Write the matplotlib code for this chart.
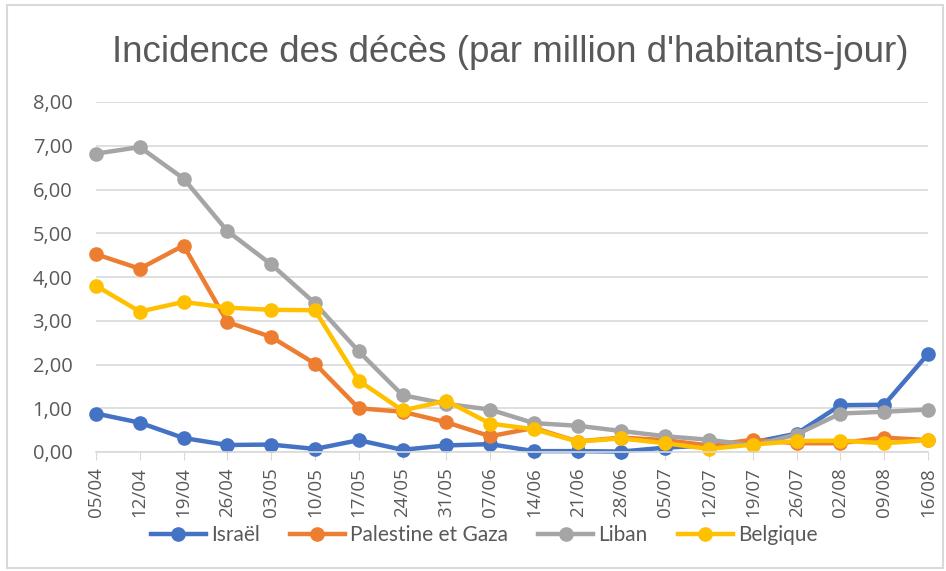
import numpy as np
import matplotlib.pyplot as plt
from matplotlib.patches import Rectangle
from matplotlib.ticker import FuncFormatter

dates = ["05/04", "12/04", "19/04", "26/04", "03/05", "10/05", "17/05", "24/05", "31/05", "07/06",
         "14/06", "21/06", "28/06", "05/07", "12/07", "19/07", "26/07", "02/08", "09/08", "16/08"]
israel = [0.88, 0.67, 0.32, 0.16, 0.17, 0.07, 0.27, 0.05, 0.15, 0.18,
          0.02, 0.02, 0.01, 0.10, 0.15, 0.22, 0.42, 1.07, 1.08, 2.24]
palestine = [4.52, 4.19, 4.72, 2.97, 2.63, 2.02, 1.00, 0.92, 0.68, 0.36,
             0.55, 0.24, 0.33, 0.27, 0.15, 0.28, 0.20, 0.20, 0.33, 0.27]
liban = [6.82, 6.97, 6.25, 5.05, 4.29, 3.40, 2.30, 1.30, 1.10, 0.97,
         0.66, 0.60, 0.48, 0.36, 0.28, 0.15, 0.40, 0.88, 0.92, 0.97]
belgique = [3.80, 3.21, 3.43, 3.30, 3.25, 3.24, 1.63, 0.95, 1.17, 0.65,
            0.52, 0.24, 0.31, 0.20, 0.07, 0.17, 0.25, 0.26, 0.20, 0.27]

series = [("Israël", israel, "#4472C4"),
          ("Palestine et Gaza", palestine, "#ED7D31"),
          ("Liban", liban, "#A5A5A5"),
          ("Belgique", belgique, "#FFC000")]

grey_txt = "#595959"
W, H = 946, 571

fig = plt.figure(figsize=(W / 100, H / 100), dpi=100)
# chart area border
fig.patches.append(Rectangle((7 / W, 3 / H), 936 / W, 563 / H, transform=fig.transFigure,
                             fill=False, edgecolor="#D9D9D9", lw=1.5))
ax = fig.add_axes([96 / W, 1 - 452 / H, (928 - 96) / W, (452 - 102) / H])

x = np.arange(len(dates))
for name, vals, col in series:
    ax.plot(x, vals, color=col, lw=3.2, marker="o", ms=9.5, label=name,
            solid_joinstyle="round", clip_on=False)

ax.set_xlim(0, len(dates) - 1)
ax.set_ylim(0, 8)
ax.set_yticks(np.arange(0, 9, 1))
ax.yaxis.set_major_formatter(FuncFormatter(lambda v, p: f"{v:.2f}".replace(".", ",")))
ax.set_xticks(x)
ax.set_xticklabels(dates, rotation=90)
ax.grid(axis="y", color="#D9D9D9", lw=1.2)
ax.set_axisbelow(True)
for s in ["top", "right", "left"]:
    ax.spines[s].set_visible(False)
ax.spines["bottom"].set_color("#D9D9D9")
ax.spines["bottom"].set_linewidth(1.2)
ax.tick_params(axis="y", length=0, pad=17, labelsize=14.5, labelcolor=grey_txt,
               labelfontfamily="Open Sans")
ax.tick_params(axis="x", length=6, color="#D9D9D9", direction="out", pad=5,
               labelsize=13.5, labelcolor=grey_txt, labelfontfamily="Open Sans")

fig.text(510 / W, 1 - 52 / H, "Incidence des décès (par million d'habitants-jour)",
         ha="center", va="center", fontsize=26.5, color=grey_txt, family="Liberation Sans")

fig.legend(loc="center", bbox_to_anchor=(484 / W, 1 - 535 / H), ncol=4, frameon=False,
           prop={"family": "Lato", "size": 15}, labelcolor=grey_txt,
           handlelength=2.64, handletextpad=0.25, columnspacing=1.44)

fig.savefig("out.png", dpi=100)
